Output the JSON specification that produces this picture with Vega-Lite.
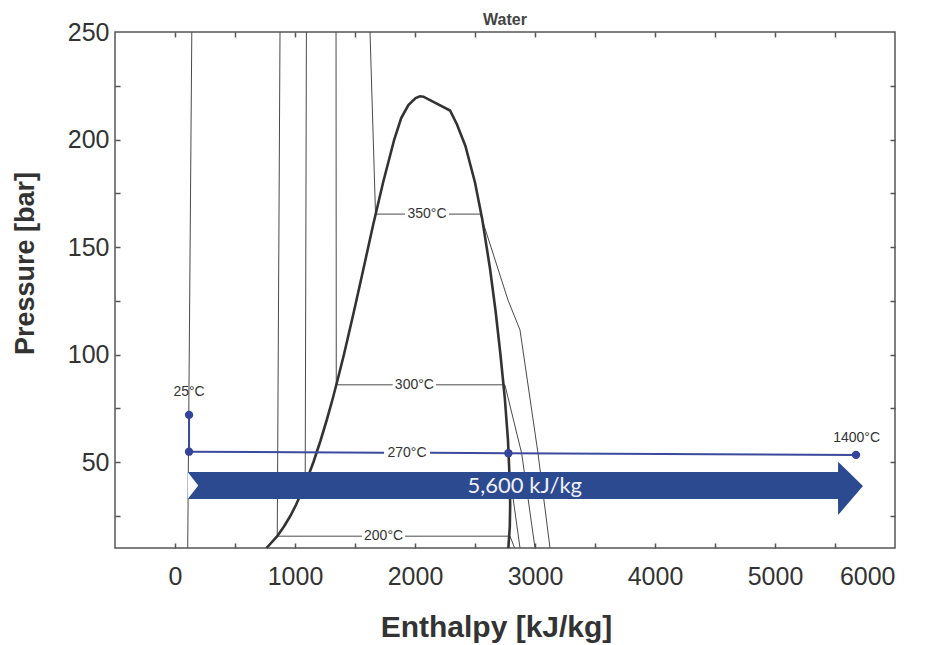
{
  "$schema": "https://vega.github.io/schema/vega-lite/v6.json",
  "width": 780,
  "height": 516,
  "autosize": "none",
  "padding": {"left": 115, "top": 32, "right": 31, "bottom": 97},
  "background": "white",
  "config": {"view": {"stroke": "#555", "strokeWidth": 1.5}, "axis": {"grid": false}},
  "resolve": {"axis": {"x": "independent", "y": "independent"}},
  "datasets": {
    "iso": [
      {"seg": "25", "i": 0, "h": 106, "p": 10}, {"seg": "25", "i": 1, "h": 140, "p": 250},
      {"seg": "200L", "i": 0, "h": 852, "p": 15.5}, {"seg": "200L", "i": 1, "h": 875, "p": 250},
      {"seg": "200H1", "i": 0, "h": 852, "p": 15.5}, {"seg": "200H1", "i": 1, "h": 1558, "p": 15.5},
      {"seg": "200H2", "i": 0, "h": 1917, "p": 15.5}, {"seg": "200H2", "i": 1, "h": 2792, "p": 15.5},
      {"seg": "200V", "i": 0, "h": 2792, "p": 15.5}, {"seg": "200V", "i": 1, "h": 2830, "p": 10},
      {"seg": "250L", "i": 0, "h": 1085, "p": 39.7}, {"seg": "250L", "i": 1, "h": 1095, "p": 250},
      {"seg": "250H", "i": 0, "h": 1085, "p": 39.7}, {"seg": "250H", "i": 1, "h": 2801, "p": 39.7},
      {"seg": "250V", "i": 0, "h": 2801, "p": 39.7}, {"seg": "250V", "i": 1, "h": 2875, "p": 10},
      {"seg": "300L", "i": 0, "h": 1344, "p": 85.9}, {"seg": "300L", "i": 1, "h": 1342, "p": 250},
      {"seg": "300H1", "i": 0, "h": 1344, "p": 85.9}, {"seg": "300H1", "i": 1, "h": 1814, "p": 85.9},
      {"seg": "300H2", "i": 0, "h": 2175, "p": 85.9}, {"seg": "300H2", "i": 1, "h": 2749, "p": 85.9},
      {"seg": "300V", "i": 0, "h": 2749, "p": 85.9}, {"seg": "300V", "i": 1, "h": 2889, "p": 54}, {"seg": "300V", "i": 2, "h": 3000, "p": 10},
      {"seg": "350L", "i": 0, "h": 1671, "p": 165.3}, {"seg": "350L", "i": 1, "h": 1625, "p": 250},
      {"seg": "350H1", "i": 0, "h": 1671, "p": 165.3}, {"seg": "350H1", "i": 1, "h": 1917, "p": 165.3},
      {"seg": "350H2", "i": 0, "h": 2283, "p": 165.3}, {"seg": "350H2", "i": 1, "h": 2545, "p": 165.3},
      {"seg": "350V", "i": 0, "h": 2545, "p": 165.3}, {"seg": "350V", "i": 1, "h": 2775, "p": 125.3}, {"seg": "350V", "i": 2, "h": 2875, "p": 111.4}, {"seg": "350V", "i": 3, "h": 3025, "p": 54}, {"seg": "350V", "i": 4, "h": 3125, "p": 10}
    ],
    "dome": [
      {"i": 0, "h": 763, "p": 10}, {"i": 1, "h": 852, "p": 15.5}, {"i": 2, "h": 908, "p": 20}, {"i": 3, "h": 962, "p": 25},
      {"i": 4, "h": 1008, "p": 30}, {"i": 5, "h": 1087, "p": 40}, {"i": 6, "h": 1154, "p": 50}, {"i": 7, "h": 1213, "p": 60},
      {"i": 8, "h": 1267, "p": 70}, {"i": 9, "h": 1317, "p": 80}, {"i": 10, "h": 1363, "p": 90}, {"i": 11, "h": 1408, "p": 100},
      {"i": 12, "h": 1491, "p": 120}, {"i": 13, "h": 1571, "p": 140}, {"i": 14, "h": 1650, "p": 160}, {"i": 15, "h": 1734, "p": 180},
      {"i": 16, "h": 1827, "p": 200}, {"i": 17, "h": 1885, "p": 210}, {"i": 18, "h": 1945, "p": 216}, {"i": 19, "h": 2005, "p": 219.3},
      {"i": 20, "h": 2042, "p": 220.1}, {"i": 21, "h": 2070, "p": 219.9}, {"i": 22, "h": 2292, "p": 213.5}, {"i": 23, "h": 2350, "p": 207},
      {"i": 24, "h": 2420, "p": 197}, {"i": 25, "h": 2500, "p": 180}, {"i": 26, "h": 2560, "p": 163}, {"i": 27, "h": 2625, "p": 140},
      {"i": 28, "h": 2672, "p": 120}, {"i": 29, "h": 2712, "p": 100}, {"i": 30, "h": 2748, "p": 80}, {"i": 31, "h": 2775, "p": 60},
      {"i": 32, "h": 2790, "p": 40}, {"i": 33, "h": 2793, "p": 30}, {"i": 34, "h": 2790, "p": 20}, {"i": 35, "h": 2778, "p": 10}
    ],
    "blue": [
      {"seg": "v", "i": 0, "h": 117, "p": 54.8}, {"seg": "v", "i": 1, "h": 117, "p": 71.9},
      {"seg": "h1", "i": 0, "h": 117, "p": 54.8}, {"seg": "h1", "i": 1, "h": 1742, "p": 54.36},
      {"seg": "h2", "i": 0, "h": 2125, "p": 54.26}, {"seg": "h2", "i": 1, "h": 5675, "p": 53.3}
    ],
    "pts": [
      {"h": 117, "p": 71.9}, {"h": 117, "p": 54.8}, {"h": 2778, "p": 54.08}, {"h": 5675, "p": 53.3}
    ],
    "arrow": [
      {"h": 106, "lo": 32.8, "hi": 45.35}, {"h": 5525, "lo": 32.8, "hi": 45.35},
      {"h": 5526, "lo": 25.35, "hi": 50.1}, {"h": 5733, "lo": 38.8, "hi": 38.8}
    ],
    "notch": [
      {"h": 106, "lo": 32.8, "hi": 45.35}, {"h": 194, "lo": 39.07, "hi": 39.07}
    ],
    "labels": [
      {"h": 2100, "p": 165.3, "t": "350°C"},
      {"h": 1995, "p": 85.9, "t": "300°C"},
      {"h": 1738, "p": 15.5, "t": "200°C"},
      {"h": 1933, "p": 54.3, "t": "270°C"},
      {"h": 117, "p": 82.7, "t": "25°C"},
      {"h": 5680, "p": 61.2, "t": "1400°C"}
    ],
    "arrowText": [
      {"h": 2915, "p": 38.9, "t": "5,600 kJ/kg"}
    ],
    "chartTitle": [
      {"h": 2750, "p": 253.4, "t": "Water"}
    ]
  },
  "layer": [
    {
      "data": {"name": "iso"},
      "mark": {"type": "line", "color": "#4a4a4a", "strokeWidth": 1},
      "encoding": {
        "x": {"field": "h", "type": "quantitative", "scale": {"domain": [-500, 6000], "nice": false, "zero": false},
          "axis": {"orient": "bottom", "values": [0, 1000, 2000, 3000, 4000, 5000, 6000], "ticks": false, "tickSize": 0, "domain": false,
            "labelPadding": 16, "labelFont": "Liberation Sans", "labelFontSize": 25, "labelColor": "#333", "format": "d",
            "title": "Enthalpy [kJ/kg]", "titleFont": "Liberation Sans", "titleFontSize": 30, "titleFontWeight": "bold", "titleColor": "#333",
            "titleBaseline": "alphabetic", "titleY": 88, "titleX": 381, "titleAlign": "center", "titleAnchor": "start"}},
        "y": {"field": "p", "type": "quantitative", "scale": {"domain": [10, 250], "nice": false, "zero": false},
          "axis": {"orient": "left", "values": [50, 100, 150, 200, 250], "ticks": false, "tickSize": 0, "domain": false,
            "labelPadding": 6, "labelFont": "Liberation Sans", "labelFontSize": 25, "labelColor": "#333",
            "title": "Pressure [bar]", "titleFont": "Liberation Sans", "titleFontSize": 27, "titleFontWeight": "bold", "titleColor": "#333",
            "titleBaseline": "alphabetic", "titleX": -82, "titleY": 231, "titleAlign": "center", "titleAnchor": "start"}},
        "detail": {"field": "seg"},
        "order": {"field": "i", "type": "quantitative"}
      }
    },
    {
      "data": {"name": "dome"},
      "mark": {"type": "line", "color": "#333", "strokeWidth": 2.6},
      "encoding": {
        "x": {"field": "h", "type": "quantitative", "scale": {"domain": [-500, 6000], "nice": false, "zero": false},
          "axis": {"orient": "bottom", "values": [0, 500, 1000, 1500, 2000, 2500, 3000, 3500, 4000, 4500, 5000, 5500], "labels": false, "domain": false, "tickSize": -5, "tickColor": "#555", "tickWidth": 1.5, "title": null}},
        "y": {"field": "p", "type": "quantitative", "scale": {"domain": [10, 250], "nice": false, "zero": false},
          "axis": {"orient": "left", "values": [25, 50, 75, 100, 125, 150, 175, 200, 225], "labels": false, "domain": false, "tickSize": -5, "tickColor": "#555", "tickWidth": 1.5, "title": null}},
        "order": {"field": "i", "type": "quantitative"}
      }
    },
    {
      "data": {"name": "blue"},
      "mark": {"type": "line", "color": "#3b4a9c", "strokeWidth": 2},
      "encoding": {
        "x": {"field": "h", "type": "quantitative", "scale": {"domain": [-500, 6000], "nice": false, "zero": false},
          "axis": {"orient": "top", "values": [0, 500, 1000, 1500, 2000, 2500, 3000, 3500, 4000, 4500, 5000, 5500], "labels": false, "domain": false, "tickSize": -5, "tickColor": "#555", "tickWidth": 1.5, "title": null}},
        "y": {"field": "p", "type": "quantitative", "scale": {"domain": [10, 250], "nice": false, "zero": false},
          "axis": {"orient": "right", "values": [25, 50, 75, 100, 125, 150, 175, 200, 225], "labels": false, "domain": false, "tickSize": -5, "tickColor": "#555", "tickWidth": 1.5, "title": null}},
        "detail": {"field": "seg"},
        "order": {"field": "i", "type": "quantitative"}
      }
    },
    {
      "data": {"name": "arrow"},
      "mark": {"type": "area", "color": "#2c4a8f", "opacity": 1},
      "encoding": {
        "x": {"field": "h", "type": "quantitative", "axis": null},
        "y": {"field": "lo", "type": "quantitative", "axis": null},
        "y2": {"field": "hi"}
      }
    },
    {
      "data": {"name": "notch"},
      "mark": {"type": "area", "color": "white", "opacity": 1},
      "encoding": {
        "x": {"field": "h", "type": "quantitative", "axis": null},
        "y": {"field": "lo", "type": "quantitative", "axis": null},
        "y2": {"field": "hi"}
      }
    },
    {
      "data": {"name": "arrowText"},
      "mark": {"type": "text", "font": "Lato", "fontSize": 22, "color": "#eef0fb", "align": "center", "baseline": "middle"},
      "encoding": {
        "x": {"field": "h", "type": "quantitative", "axis": null},
        "y": {"field": "p", "type": "quantitative", "axis": null},
        "text": {"field": "t"}
      }
    },
    {
      "data": {"name": "pts"},
      "mark": {"type": "circle", "color": "#34449a", "size": 70, "opacity": 1},
      "encoding": {
        "x": {"field": "h", "type": "quantitative", "axis": null},
        "y": {"field": "p", "type": "quantitative", "axis": null}
      }
    },
    {
      "data": {"name": "labels"},
      "mark": {"type": "text", "font": "Liberation Sans", "fontSize": 14, "color": "#333", "align": "center", "baseline": "middle"},
      "encoding": {
        "x": {"field": "h", "type": "quantitative", "axis": null},
        "y": {"field": "p", "type": "quantitative", "axis": null},
        "text": {"field": "t"}
      }
    },
    {
      "data": {"name": "chartTitle"},
      "mark": {"type": "text", "font": "Liberation Sans", "fontSize": 16, "fontWeight": "bold", "color": "#444", "align": "center", "baseline": "alphabetic"},
      "encoding": {
        "x": {"field": "h", "type": "quantitative", "axis": null},
        "y": {"field": "p", "type": "quantitative", "axis": null},
        "text": {"field": "t"}
      }
    }
  ]
}
